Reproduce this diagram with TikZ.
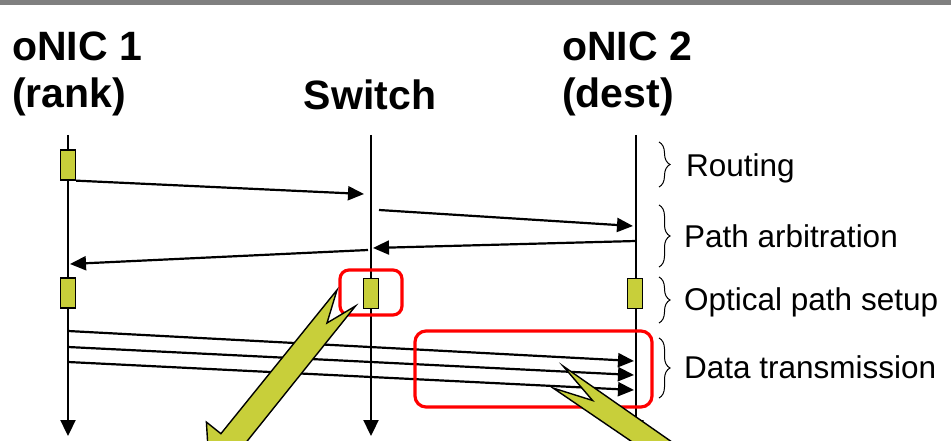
\documentclass[tikz,border=0pt]{standalone}
\usepackage{fontspec}
\setmainfont{Liberation Sans}
\usetikzlibrary{arrows.meta,decorations.pathreplacing}
\definecolor{actgreen}{RGB}{200,207,58}
\definecolor{bargray}{RGB}{128,128,128}

\begin{document}
\begin{tikzpicture}[
  x=1pt, y=-1pt,
  title/.style  ={font=\fontsize{41}{48}\selectfont\bfseries, inner sep=0pt},
  lbl/.style    ={font=\fontsize{31.5}{38}\selectfont, inner sep=0pt, anchor=base west},
  life/.style   ={line width=2.3pt, -{Triangle[length=16pt,width=15pt]}},
  msg/.style    ={line width=2.2pt, -{Triangle[length=16pt,width=14pt]}},
  act/.style    ={draw, line width=1.3pt, fill=actgreen, minimum width=15pt, minimum height=30pt, inner sep=0pt},
  hilite/.style ={draw=red, line width=3.2pt, inner sep=0pt},
  callout/.style={draw, line width=1.4pt, fill=actgreen, line join=miter},
  brc/.style    ={decorate, decoration={brace, amplitude=11pt}, line width=1pt},
]
\useasboundingbox (0,0) rectangle (951,441);
\clip (0,0) rectangle (951,441);
\fill[bargray] (0,0) rectangle (951,5);

% --- headers ---
\node[title, anchor=base west] (nic1) at (12,61)  {oNIC 1};
\node[title, anchor=base west] (rank) at (12,108) {(rank)};
\node[title, anchor=base]      (sw)   at (370,110) {Switch};
\node[title, anchor=base west] (nic2) at (562,61)  {oNIC 2};
\node[title, anchor=base west] (dest) at (562,108) {(dest)};

% --- lifelines ---
\coordinate (t1) at (68,135);  \coordinate (b1) at (68,436);
\coordinate (t2) at (371,135); \coordinate (b2) at (371,436);
\coordinate (t3) at (636,135); \coordinate (b3) at (636,436);
\draw[life] (t1) -- (b1);
\draw[life] (t2) -- (b2);
\draw[life] (t3) -- (b3);

% --- messages ---
\coordinate (m1e) at (364,194);
\coordinate (m2s) at (379,210); \coordinate (m2e) at (633,226);
\coordinate (m3s) at (636,241); \coordinate (m3e) at (373,248);
\coordinate (m4s) at (368,250); \coordinate (m4e) at (70,264);
\coordinate (d1s) at (68,331); \coordinate (d1e) at (634,361);
\coordinate (d2s) at (68,347); \coordinate (d2e) at (634,375);
\coordinate (d3s) at (68,362); \coordinate (d3e) at (634,390);

% --- activity boxes ---
\node[act] (r1) at (68,165) {};
\node[act] (r2) at (68,293) {};
\node[act] (s1) at (371,293.5) {};
\node[act] (o1) at (635,293.5) {};

\draw[msg] (r1.south east) -- (m1e);
\draw[msg] (m2s) -- (m2e);
\draw[msg] (m3s) -- (m3e);
\draw[msg] (m4s) -- (m4e);
\draw[msg] (d1s) -- (d1e);
\draw[msg] (d2s) -- (d2e);
\draw[msg] (d3s) -- (d3e);

% --- phases ---
\draw[brc] (659,142) -- (659,187);
\draw[brc] (659,205) -- (659,267);
\draw[brc] (659,277) -- (659,323);
\draw[brc] (659,338) -- (659,398);
\node[lbl] (routing) at (686,177) {Routing};
\node[lbl] (arb)     at (684,247) {Path arbitration};
\node[lbl] (setup)   at (684,310) {Optical path setup};
\node[lbl] (data)    at (684,378) {Data transmission};

% --- highlights ---
\node[hilite, rounded corners=9pt, minimum width=62pt, minimum height=45pt] (hl1) at (371,292.5) {};
\node[hilite, rounded corners=11pt, minimum width=237pt, minimum height=76pt] (hl2) at (533.5,369) {};

% --- callouts ---
\draw[callout] (337,290) -- (327,323) -- (355.5,306) -- (240.4,449.5) -- (254.8,461.1)
  -- (209.2,468.1) -- (206.4,422.1) -- (220.9,433.7) -- cycle;
\draw[callout] (563,366) -- (696.7,459.3) -- (713.6,446.7) -- (725.6,491.2)
  -- (679.8,496.3) -- (690,481.3) -- (553,388) -- (592.6,400.5) -- cycle;
\end{tikzpicture}
\end{document}
